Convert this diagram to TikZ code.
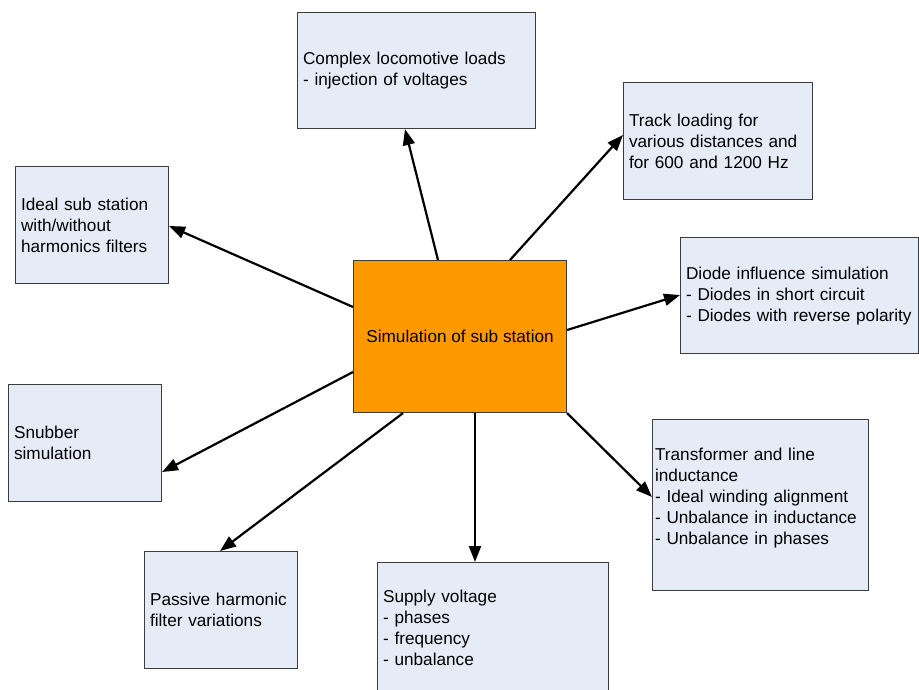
\documentclass[tikz,border=0pt]{standalone}
\usepackage{fontspec}
\setmainfont{Liberation Sans}
\usetikzlibrary{arrows.meta,calc}
\definecolor{boxfill}{RGB}{230,236,247}
\definecolor{boxline}{RGB}{60,60,60}
\definecolor{hubfill}{RGB}{255,153,0}
\begin{document}
\begin{tikzpicture}[x=1pt,y=-1pt,
  topicbox/.style={draw=boxline,line width=1.1pt,fill=boxfill,anchor=north west,
    align=left,inner xsep=5.5pt,inner ysep=0pt,text=black,
    font=\fontsize{17.2pt}{21pt}\selectfont},
  hubbox/.style={draw=boxline,line width=1.1pt,fill=hubfill,anchor=north west,
    align=center,inner sep=0pt,text=black,
    font=\fontsize{17.2pt}{21pt}\selectfont},
  arr/.style={draw=black,line width=2.2pt,-{Triangle[length=16pt,width=12pt]}}]
\useasboundingbox (0,0) rectangle (919,689);
\fill[white] (0,0) rectangle (919,689);

% central block
\node[hubbox,minimum width=213pt,minimum height=152pt] (hub) at (353,260)
  {Simulation of sub station};

% surrounding topics
\node[topicbox,text width=227pt,minimum height=116pt] (loco) at (297,12)
  {Complex locomotive loads\\- injection of voltages};
\node[topicbox,text width=178pt,minimum height=117pt] (track) at (623,82)
  {Track loading for\\various distances and\\for 600 and 1200 Hz};
\node[topicbox,text width=142pt,minimum height=117pt] (ideal) at (15,166)
  {Ideal sub station\\with/without\\harmonics filters};
\node[topicbox,text width=227pt,minimum height=116pt] (diode) at (680,237)
  {Diode influence simulation\\- Diodes in short circuit\\- Diodes with reverse polarity};
\node[topicbox,text width=142pt,minimum height=117pt] (snub) at (8,384)
  {Snubber\\simulation};
% text sits a little above the middle of this box: a blank last line lifts it
\node[topicbox,inner xsep=2.5pt,text width=211pt,minimum height=171pt] (trans) at (652,419)
  {Transformer and line\\inductance\\- Ideal winding alignment\\- Unbalance in inductance\\- Unbalance in phases\\[-3pt]\mbox{}};
\node[topicbox,text width=142pt,minimum height=117pt] (passive) at (144,551)
  {Passive harmonic\\filter variations};
\node[topicbox,text width=220pt,minimum height=130pt] (supply) at (377,562)
  {Supply voltage\\- phases\\- frequency\\- unbalance};

% connectors from the central block
\draw[arr] ([xshift=85pt]hub.north west) -- ([xshift=108pt]loco.south west);
\draw[arr] ([xshift=157pt]hub.north west) -- ([yshift=-53pt]track.north west);
\draw[arr] ([yshift=-47pt]hub.north west) -- ([yshift=-60pt]ideal.north east);
\draw[arr] ([yshift=-70pt]hub.north east) -- ([yshift=-58pt]diode.north west);
\draw[arr] ([yshift=-112pt]hub.north west) -- ([yshift=-88pt]snub.north east);
\draw[arr] ([xshift=50pt]hub.south west) -- ([xshift=76pt]passive.north west);
\draw[arr] ([xshift=122pt]hub.south west) -- ([xshift=98pt]supply.north west);
\draw[arr] (hub.south east) -- ([yshift=-78pt]trans.north west);
\end{tikzpicture}
\end{document}
